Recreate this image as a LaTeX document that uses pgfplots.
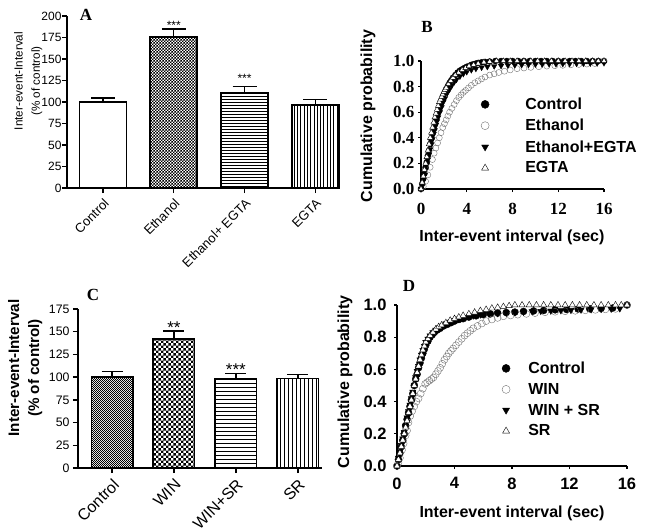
\documentclass[border=0pt]{standalone}
\usepackage{pgfplots}
\pgfplotsset{compat=1.18}
\usepackage{fontspec}
\setmainfont{Liberation Sans}
\newfontfamily\timesfont{Liberation Serif}
\usetikzlibrary{patterns}
\newcommand\fs[1]{\fontsize{#1}{#1}\selectfont}

% patterns
\pgfdeclarepatternformonly{chkA}{\pgfpointorigin}{\pgfqpoint{3.4pt}{3.4pt}}{\pgfqpoint{3.4pt}{3.4pt}}{%
  \pgfpathrectangle{\pgfpointorigin}{\pgfqpoint{1.7pt}{1.7pt}}%
  \pgfpathrectangle{\pgfqpoint{1.7pt}{1.7pt}}{\pgfqpoint{1.7pt}{1.7pt}}\pgfusepath{fill}}
\pgfdeclarepatternformonly{chkF}{\pgfpointorigin}{\pgfqpoint{2.4pt}{2.4pt}}{\pgfqpoint{2.4pt}{2.4pt}}{%
  \pgfpathrectangle{\pgfpointorigin}{\pgfqpoint{1.2pt}{1.2pt}}%
  \pgfpathrectangle{\pgfqpoint{1.2pt}{1.2pt}}{\pgfqpoint{1.2pt}{1.2pt}}\pgfusepath{fill}}
\pgfdeclarepatternformonly{chkC}{\pgfpointorigin}{\pgfqpoint{5.4pt}{5.4pt}}{\pgfqpoint{5.4pt}{5.4pt}}{%
  \pgfpathrectangle{\pgfpointorigin}{\pgfqpoint{2.7pt}{2.7pt}}%
  \pgfpathrectangle{\pgfqpoint{2.7pt}{2.7pt}}{\pgfqpoint{2.7pt}{2.7pt}}\pgfusepath{fill}}
\pgfdeclarepatternformonly{hlA}{\pgfqpoint{-1pt}{-1pt}}{\pgfqpoint{100pt}{2pt}}{\pgfqpoint{100pt}{3pt}}{%
  \pgfsetlinewidth{1pt}\pgfpathmoveto{\pgfqpoint{0pt}{0.5pt}}\pgfpathlineto{\pgfqpoint{100pt}{0.5pt}}\pgfusepath{stroke}}
\pgfdeclarepatternformonly{vlA}{\pgfqpoint{-1pt}{-1pt}}{\pgfqpoint{2.3pt}{100pt}}{\pgfqpoint{3.3pt}{100pt}}{%
  \pgfsetlinewidth{1pt}\pgfpathmoveto{\pgfqpoint{0.5pt}{0pt}}\pgfpathlineto{\pgfqpoint{0.5pt}{100pt}}\pgfusepath{stroke}}
\pgfdeclarepatternformonly{hlC}{\pgfqpoint{-1pt}{-1pt}}{\pgfqpoint{100pt}{3pt}}{\pgfqpoint{100pt}{4pt}}{%
  \pgfsetlinewidth{1pt}\pgfpathmoveto{\pgfqpoint{0pt}{0.5pt}}\pgfpathlineto{\pgfqpoint{100pt}{0.5pt}}\pgfusepath{stroke}}
\pgfdeclarepatternformonly{vlC}{\pgfqpoint{-1pt}{-1pt}}{\pgfqpoint{3pt}{100pt}}{\pgfqpoint{4pt}{100pt}}{%
  \pgfsetlinewidth{1pt}\pgfpathmoveto{\pgfqpoint{0.5pt}{0pt}}\pgfpathlineto{\pgfqpoint{0.5pt}{100pt}}\pgfusepath{stroke}}

\pgfplotsset{
  barpanel/.style={
    scale only axis, axis lines=left, axis line style={-, line width=1.6pt},
    tick style={line width=1.4pt, black}, tick align=outside, major tick length=5pt,
    ybar, bar shift=0pt, bar width=0.665, ymin=0,
    xtick={0,1,2,3}, clip=false,
    /pgf/number format/assume math mode=true,
    every axis plot/.append style={draw=black, line width=1.8pt,
      error bars/y dir=plus, error bars/y explicit,
      error bars/error bar style={line width=1.4pt, black},
      error bars/error mark options={rotate=90, line width=1.4pt, black, mark size=12pt}},
  },
  cumpanel/.style={
    scale only axis, axis lines=left, axis line style={-, line width=1.3pt},
    tick style={line width=1.1pt, black}, tick align=outside, major tick length=3pt,
    xmin=0, xmax=16, ymin=0, ymax=1, clip=false,
    xtick={0,4,8,12,16}, ytick={0,0.2,0.4,0.6,0.8,1},
    yticklabels={0.0,0.2,0.4,0.6,0.8,1.0},
    /pgf/number format/assume math mode=true,
    legend cell align=left,
  },
}

\begin{document}
\begin{tikzpicture}
\useasboundingbox (0,0) rectangle (649pt,-532pt);

% ---------------- Panel A ----------------
\begin{axis}[barpanel,
  at={(67pt,-188pt)}, anchor=south west, width=273pt, height=172pt,
  xmin=-0.51, xmax=3.35, ymax=200, ytick={0,25,...,200},
  xticklabels={Control,Ethanol,Ethanol+ EGTA,EGTA},
  yticklabel style={font=\fs{12}, xshift=3pt},
  xticklabel style={rotate=45, anchor=north east, font=\fs{13}},
  ylabel={Inter-event-Interval},
  ylabel style={font=\fs{11.7}, at={(axis description cs:-0.178,0.622)}, anchor=center},
]
\addplot[fill=white] coordinates {(0,100) +- (0,4.5)};
\addplot[pattern=chkA] coordinates {(1,176) +- (0,9)};
\addplot[pattern=hlA] coordinates {(2,110.5) +- (0,7.5)};
\addplot[pattern=vlA] coordinates {(3,96.5) +- (0,6.5)};
\node[font=\fs{12}] at (axis cs:1,189) {***};
\node[font=\fs{12}] at (axis cs:2,127) {***};
\node[font=\fs{11.7}, rotate=90] at (axis description cs:-0.11,0.622) {(\% of control)};
\end{axis}

% ---------------- Panel C ----------------
\begin{axis}[barpanel,
  at={(78pt,-468pt)}, anchor=south west, width=244pt, height=159pt,
  xmin=-0.55, xmax=3.39, ymax=175, ytick={0,25,...,175},
  xticklabels={Control,WIN,WIN+SR,SR},
  yticklabel style={font=\fs{12.3}},
  xticklabel style={rotate=45, anchor=north east, font=\fs{16}},
  ylabel={\begin{tabular}{@{}c@{}}Inter-event-Interval\\(\% of control)\end{tabular}},
  ylabel style={font=\fontsize{15.2}{20}\selectfont\bfseries, at={(axis description cs:-0.217,0.629)}, anchor=center},
  every axis plot/.append style={error bars/error mark options={rotate=90, line width=1.4pt, black, mark size=10.5pt}},
]
\addplot[pattern=chkF] coordinates {(0,100) +- (0,6.5)};
\addplot[pattern=chkC] coordinates {(1,142) +- (0,9)};
\addplot[pattern=hlC] coordinates {(2,98.5) +- (0,5.5)};
\addplot[pattern=vlC] coordinates {(3,98.5) +- (0,4.5)};
\node[font=\fs{17}] at (axis cs:1,155) {**};
\node[font=\fs{17}] at (axis cs:2,108.5) {***};
\end{axis}

% ---------------- Panel B ----------------
\begin{axis}[cumpanel,
  at={(421pt,-189pt)}, anchor=south west, width=183pt, height=128pt,
  ticklabel style={font=\timesfont\bfseries\fs{17}},
  xticklabel style={yshift=-8pt},
  xlabel={Inter-event interval (sec)}, ylabel={Cumulative probability},
  xlabel style={font=\bfseries\fs{16}, at={(axis description cs:0.497,-0.375)}, anchor=center},
  ylabel style={font=\bfseries\fs{16}, at={(axis description cs:-0.29,0.57)}, anchor=center},
  legend image code/.code={\path (0pt,0pt) (-38pt,0pt); \draw[#1,mark size=4pt] plot coordinates {(-38pt,0pt)};},
  legend style={draw=none, fill=none, at={(0.311,0.745)}, anchor=north west, font=\bfseries\fs{16}, row sep=4.2pt},
]
\addplot[only marks, mark=*, black, mark size=3pt] coordinates {
(0,0)(0.1,0.04)(0.2,0.08)(0.3,0.12)(0.4,0.17)(0.5,0.21)(0.6,0.26)(0.7,0.3)(0.8,0.35)(0.9,0.39)(1.0,0.43)(1.1,0.47)(1.2,0.5)(1.3,0.54)(1.4,0.57)(1.5,0.6)(1.6,0.63)(1.7,0.66)(1.8,0.69)(1.9,0.72)(2.0,0.74)(2.1,0.76)(2.2,0.78)(2.35,0.805)(2.5,0.83)(2.65,0.85)(2.8,0.87)(3.0,0.89)(3.2,0.91)(3.4,0.925)(3.6,0.935)(3.8,0.945)(4.0,0.955)(4.2,0.96)(4.4,0.97)(4.6,0.975)(4.8,0.98)(5.0,0.985)(5.3,0.99)(5.6,0.993)(6.0,0.996)(6.5,1)(7,1)(7.5,1)(8,1)(8.5,1)(9,1)(9.5,1)(10,1)(10.5,1)(11,1)(11.5,1)(12,1)(12.5,1)(13,1)(13.5,1)(14,1)(14.5,1)(15,1)(15.5,1)(16,1)};
\addlegendentry{Control}
\addplot[only marks, mark=o, draw=black!55, fill=white, mark size=3pt] coordinates {
(0,0)(0.2,0.02)(0.4,0.06)(0.6,0.11)(0.8,0.17)(1.0,0.23)(1.15,0.28)(1.3,0.32)(1.45,0.36)(1.6,0.4)(1.75,0.44)(1.9,0.48)(2.05,0.51)(2.2,0.54)(2.35,0.57)(2.5,0.6)(2.7,0.63)(2.9,0.66)(3.1,0.69)(3.3,0.715)(3.5,0.735)(3.7,0.755)(3.9,0.77)(4.15,0.79)(4.4,0.81)(4.7,0.83)(5.0,0.845)(5.3,0.86)(5.6,0.875)(6.0,0.89)(6.4,0.9)(6.8,0.91)(7.3,0.92)(7.8,0.93)(8.4,0.94)(9.0,0.945)(9.6,0.95)(10.3,0.955)(11,0.96)(11.7,0.963)(12.4,0.966)(13.1,0.97)(13.8,0.973)(14.5,0.976)(15.2,0.98)(16,1)};
\addlegendentry{Ethanol}
\addplot[only marks, mark=triangle*, black, mark size=3.2pt, mark options={rotate=180}] coordinates {
(0,0)(0.1,0.03)(0.2,0.07)(0.3,0.11)(0.4,0.15)(0.5,0.19)(0.6,0.23)(0.7,0.27)(0.8,0.31)(0.9,0.35)(1.0,0.39)(1.1,0.43)(1.2,0.46)(1.3,0.5)(1.4,0.53)(1.5,0.56)(1.65,0.6)(1.8,0.64)(1.95,0.68)(2.1,0.71)(2.3,0.75)(2.5,0.78)(2.7,0.81)(2.9,0.835)(3.1,0.855)(3.4,0.88)(3.7,0.9)(4.0,0.915)(4.4,0.93)(4.8,0.94)(5.3,0.95)(5.8,0.955)(6.4,0.96)(7,0.963)(7.6,0.966)(8.2,0.968)(8.8,0.97)(9.4,0.972)(10,0.974)(10.6,0.975)(11.2,0.976)(11.8,0.977)(12.4,0.978)(13,0.979)(13.6,0.98)(14.2,0.981)(14.8,0.982)(15.4,0.983)(16,0.985)};
\addlegendentry{Ethanol+EGTA}
\addplot[only marks, mark=triangle*, draw=black, fill=white, mark size=3.2pt] coordinates {
(0,0)(0.1,0.05)(0.2,0.1)(0.3,0.15)(0.4,0.2)(0.5,0.25)(0.6,0.3)(0.7,0.35)(0.8,0.4)(0.9,0.44)(1.0,0.48)(1.1,0.52)(1.2,0.56)(1.3,0.59)(1.4,0.62)(1.5,0.65)(1.6,0.68)(1.7,0.7)(1.8,0.72)(1.9,0.74)(2.0,0.76)(2.1,0.775)(2.2,0.79)(2.4,0.82)(2.6,0.845)(2.8,0.87)(3.0,0.89)(3.3,0.91)(3.6,0.93)(3.9,0.945)(4.2,0.96)(4.6,0.97)(5.0,0.98)(5.5,0.99)(6.0,0.995)(6.6,1)(7.2,1)(7.8,1)(8.4,1)(9,1)(9.6,1)(10.2,1)(10.8,1)(11.4,1)(12,1)(12.6,1)(13.2,1)(13.8,1)(14.4,1)(15,1)(15.5,1)(16,1)};
\addlegendentry{EGTA}
\end{axis}

% ---------------- Panel D ----------------
\begin{axis}[cumpanel,
  at={(397pt,-466pt)}, anchor=south west, width=230pt, height=161pt,
  ticklabel style={font=\bfseries\fs{16.5}},
  xticklabel style={yshift=-5pt}, yticklabel style={xshift=-4pt},
  xlabel={Inter-event interval (sec)}, ylabel={Cumulative probability},
  xlabel style={font=\bfseries\fs{16}, at={(axis description cs:0.5,-0.292)}, anchor=center},
  ylabel style={font=\bfseries\fs{16}, at={(axis description cs:-0.226,0.522)}, anchor=center},
  legend image code/.code={\path (0pt,0pt) (-20pt,0pt); \draw[#1,mark size=4pt] plot coordinates {(-20pt,0pt)};},
  legend style={draw=none, fill=none, at={(0.443,0.673)}, anchor=north west, font=\bfseries\fs{16}, row sep=4.2pt},
]
\addplot[only marks, mark=*, black, mark size=3.5pt] coordinates {
(0,0)(0.1,0.04)(0.2,0.08)(0.3,0.12)(0.4,0.16)(0.5,0.2)(0.6,0.25)(0.7,0.29)(0.8,0.33)(0.9,0.37)(1.0,0.41)(1.1,0.45)(1.2,0.5)(1.3,0.54)(1.4,0.57)(1.5,0.61)(1.6,0.64)(1.7,0.67)(1.8,0.7)(1.9,0.725)(2.0,0.75)(2.15,0.775)(2.3,0.8)(2.45,0.815)(2.6,0.83)(2.8,0.845)(3.0,0.855)(3.25,0.87)(3.5,0.88)(3.75,0.89)(4.0,0.9)(4.3,0.91)(4.6,0.915)(5.0,0.925)(5.5,0.933)(6.0,0.94)(6.5,0.945)(7.0,0.95)(7.6,0.953)(8.2,0.956)(8.8,0.96)(9.5,0.963)(10.2,0.966)(11,0.97)(11.8,0.972)(12.6,0.975)(13.4,0.977)(14.2,0.979)(15,0.981)(16,1)};
\addlegendentry{Control}
\addplot[only marks, mark=o, draw=black!55, fill=white, mark size=3.5pt] coordinates {
(0,0)(0.1,0.02)(0.2,0.05)(0.35,0.1)(0.46,0.14)(0.6,0.19)(0.7,0.22)(0.8,0.27)(0.92,0.31)(1.05,0.34)(1.2,0.37)(1.35,0.4)(1.5,0.42)(1.65,0.45)(1.8,0.48)(1.96,0.51)(2.1,0.52)(2.25,0.53)(2.4,0.54)(2.54,0.55)(2.7,0.57)(2.85,0.59)(3.0,0.61)(3.15,0.635)(3.3,0.66)(3.46,0.68)(3.6,0.7)(3.75,0.715)(3.9,0.73)(4.1,0.75)(4.3,0.77)(4.5,0.79)(4.7,0.81)(4.9,0.825)(5.1,0.84)(5.3,0.855)(5.6,0.87)(5.9,0.885)(6.2,0.9)(6.6,0.91)(7.0,0.92)(7.4,0.93)(7.9,0.935)(8.4,0.94)(9.0,0.945)(9.6,0.95)(10.3,0.955)(11,0.958)(11.7,0.961)(12.4,0.964)(13.1,0.967)(13.8,0.97)(14.5,0.973)(15.2,0.976)(16,1)};
\addlegendentry{WIN}
\addplot[only marks, mark=triangle*, black, mark size=3.6pt, mark options={rotate=180}] coordinates {
(0,0)(0.1,0.05)(0.2,0.09)(0.3,0.13)(0.4,0.17)(0.5,0.21)(0.6,0.25)(0.7,0.3)(0.8,0.34)(0.9,0.38)(1.0,0.42)(1.1,0.46)(1.2,0.5)(1.3,0.55)(1.4,0.59)(1.5,0.62)(1.6,0.66)(1.7,0.69)(1.8,0.72)(1.9,0.745)(2.0,0.77)(2.15,0.79)(2.3,0.81)(2.5,0.83)(2.7,0.845)(2.9,0.86)(3.1,0.87)(3.4,0.885)(3.7,0.895)(4.0,0.905)(4.4,0.915)(4.8,0.925)(5.3,0.933)(5.8,0.94)(6.4,0.945)(7.0,0.948)(7.6,0.951)(8.2,0.954)(8.8,0.957)(9.4,0.96)(10,0.962)(10.7,0.964)(11.4,0.966)(12.1,0.968)(12.8,0.97)(13.5,0.972)(14.2,0.974)(14.9,0.976)(15.5,0.978)};
\addlegendentry{WIN + SR}
\addplot[only marks, mark=triangle*, draw=black, fill=white, mark size=3.6pt] coordinates {
(0,0)(0.1,0.04)(0.2,0.08)(0.3,0.12)(0.4,0.16)(0.5,0.2)(0.6,0.24)(0.7,0.28)(0.8,0.33)(0.9,0.37)(1.0,0.41)(1.1,0.45)(1.2,0.5)(1.3,0.54)(1.4,0.58)(1.5,0.62)(1.6,0.66)(1.7,0.69)(1.8,0.72)(1.9,0.745)(2.0,0.77)(2.15,0.79)(2.3,0.81)(2.5,0.83)(2.7,0.85)(2.9,0.865)(3.1,0.875)(3.4,0.89)(3.7,0.905)(4.0,0.915)(4.3,0.925)(4.6,0.935)(5.0,0.945)(5.4,0.955)(5.8,0.965)(6.2,0.972)(6.6,0.98)(7.0,0.985)(7.4,0.99)(7.8,0.995)(8.2,1)(8.7,1)(9.2,1)(9.7,1)(10.2,1)(10.7,1)(11.2,1)(11.7,1)(12.2,1)(12.7,1)(13.2,1)(13.7,1)(14.2,1)(14.7,1)(15.2,1)(15.6,1)(16,1)};
\addlegendentry{SR}
\end{axis}

% panel letters
\node[font=\timesfont\bfseries\fs{17}] at (86pt,-15pt) {A};
\node[font=\timesfont\bfseries\fs{17}] at (427pt,-27pt) {B};
\node[font=\timesfont\bfseries\fs{17}] at (93pt,-295pt) {C};
\node[font=\timesfont\bfseries\fs{17}] at (409pt,-286pt) {D};
\end{tikzpicture}
\end{document}
